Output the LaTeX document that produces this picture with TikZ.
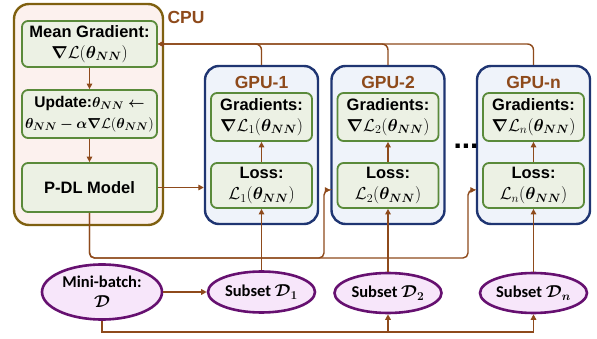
\documentclass[tikz,border=0pt]{standalone}
\usepackage{amsmath,bm}
\usepackage{fontspec}
\setmainfont{Liberation Sans}
\newfontfamily\ellfont{Carlito}
\usetikzlibrary{arrows.meta,shapes.geometric}

\definecolor{flowc}{HTML}{8E4A1B}
\definecolor{cpuedge}{HTML}{7F6010}
\definecolor{cpufill}{HTML}{FCF1EE}
\definecolor{gpuedge}{HTML}{1F3572}
\definecolor{gpufill}{HTML}{EFF3FA}
\definecolor{boxedge}{HTML}{5A8A3A}
\definecolor{boxfill}{HTML}{ECF1E4}
\definecolor{dataedge}{HTML}{661070}
\definecolor{datafill}{HTML}{F7E6FA}

\newcommand{\thNN}{\bm{\theta}_{\bm{NN}}}

\begin{document}
\begin{tikzpicture}[x=1pt,y=-1pt,
  cpubox/.style={draw=cpuedge, fill=cpufill, line width=2.4pt, rounded corners=15pt},
  gpubox/.style={draw=gpuedge, fill=gpufill, line width=2.4pt, rounded corners=14pt},
  stepbox/.style={draw=boxedge, fill=boxfill, line width=1.8pt, rounded corners=6pt,
    align=center, inner sep=0pt, font=\bfseries\fontsize{16.5}{21}\selectfont},
  databox/.style={ellipse, draw=dataedge, fill=datafill, line width=2.6pt, inner sep=0pt,
    align=center, font=\ellfont\bfseries\fontsize{16.5}{20}\selectfont},
  unitlabel/.style={text=flowc, font=\bfseries\fontsize{17.5}{20}\selectfont},
  flow/.style={draw=flowc, line width=1.4pt},
  arr/.style={flow, -{Triangle[length=5.5pt,width=5.5pt]}}
]
\useasboundingbox (0,0) rectangle (597,339);

% CPU side
\node[cpubox, minimum width=149pt, minimum height=221pt] (cpu) at (88.5,114.5) {};
\node[unitlabel, anchor=west] (cpulbl) at (164,17) {CPU};
\node[stepbox, minimum width=135pt, minimum height=46pt] (mg) at (89.5,44)
  {Mean Gradient:\\ $\bm{\nabla}\mathcal{L}(\thNN)$};
\node[stepbox, minimum width=135pt, minimum height=48pt,
      font=\bfseries\fontsize{15.5}{21}\selectfont] (up) at (89.5,114)
  {Update:$\thNN \bm{\leftarrow}$\\ $\thNN \bm{-} \bm{\alpha}\bm{\nabla}\mathcal{L}(\thNN)$};
\node[stepbox, minimum width=135pt, minimum height=49pt] (pdl) at (89.5,187.5) {P-DL Model};

% GPU workers
\foreach \n/\cx/\k in {gpu1/261.5/1, gpu2/388/2, gpun/533.5/n}{
  \node[gpubox, minimum width=113pt, minimum height=158pt] (\n) at (\cx,145) {};
  \node[unitlabel] (\n lbl) at (\cx,82) {GPU-\k};
  \node[stepbox, minimum width=101pt, minimum height=48pt] (grad\k) at (\cx,117)
    {Gradients:\\ $\bm{\nabla}\mathcal{L}_{\k}(\thNN)$};
  \node[stepbox, minimum width=101pt, minimum height=45pt] (loss\k) at (\cx,185.5)
    {Loss:\\ $\mathcal{L}_{\k}(\thNN)$};
}
\node[font=\bfseries\fontsize{30}{30}\selectfont] (dots) at (466,146) {...};

% data
\node[databox, minimum width=120pt, minimum height=55pt] (mb) at (102,292)
  {Mini-batch:\\ $\bm{\mathcal{D}}$};
\node[databox, minimum width=107pt, minimum height=41pt] (d1) at (261.5,292)
  {Subset $\bm{\mathcal{D}}_{\bm{1}}$};
\node[databox, minimum width=107pt, minimum height=40pt] (d2) at (388,293)
  {Subset $\bm{\mathcal{D}}_{\bm{2}}$};
\node[databox, minimum width=107pt, minimum height=40pt] (dn) at (533.5,293)
  {Subset $\bm{\mathcal{D}}_{\bm{n}}$};

% CPU internal flow
\draw[arr] (mg.south) -- (up.north);
\draw[arr] (up.south) -- (pdl.north);
\draw[arr] (pdl.east) -- (pdl.east -| gpu1.west);

% gradients returned to the CPU
\foreach \n in {gpun,gpu2,gpu1}
  \draw[arr, rounded corners=6pt] (\n.north) |- (mg.east);

% model broadcast to the remaining GPUs
\coordinate (busT) at (0,258);
\coordinate (in2) at (324,190);
\coordinate (inn) at (468,190);
\draw[arr, rounded corners=5pt] (pdl.south) |- (in2 |- busT) -- (in2) -- (in2 -| gpu2.west);
\draw[arr, rounded corners=5pt] (pdl.south) |- (inn |- busT) -- (inn) -- (inn -| gpun.west);

% data subsets into the losses
\foreach \k in {1,2,n}
  \draw[arr] (d\k.north) -- (loss\k.south);
\foreach \k in {1,2,n}
  \draw[arr] (loss\k.north) -- (grad\k.south);

% mini-batch split
\coordinate (busB) at (0,332);
\draw[arr] (mb.east) -- (d1.west);
\draw[arr] (mb.south) |- (dn.south |- busB) -- (dn.south);
\draw[arr] (d2.south |- busB) -- (d2.south);
\end{tikzpicture}
\end{document}
